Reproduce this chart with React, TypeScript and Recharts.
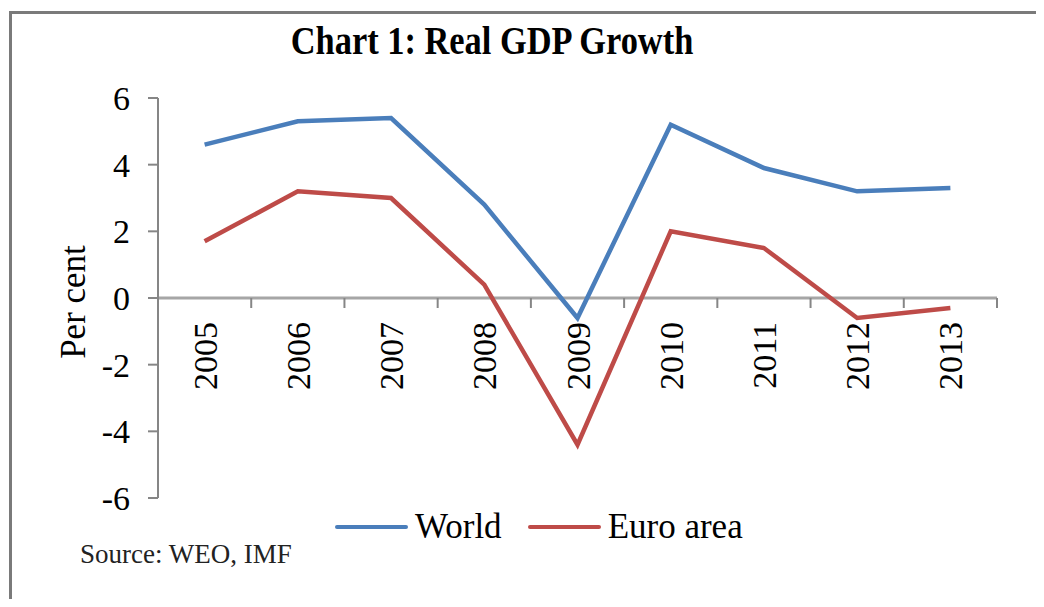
import React from 'react';
import { LineChart, Line, XAxis, YAxis, ReferenceLine, Legend } from 'recharts';

const years = ['2005', '2006', '2007', '2008', '2009', '2010', '2011', '2012', '2013'];
const world = [4.6, 5.3, 5.4, 2.8, -0.6, 5.2, 3.9, 3.2, 3.3];
const euroArea = [1.7, 3.2, 3.0, 0.4, -4.4, 2.0, 1.5, -0.6, -0.3];
const seriesNames = ['World', 'Euro area'];
const yTicks = [-6, -4, -2, 0, 2, 4, 6];

const data = years.map((year, i) => ({ year, world: world[i], euro: euroArea[i] }));

const W = 1044;
const H = 607;
const PLOT_LEFT = 158;
const PLOT_RIGHT = 997;
const PLOT_TOP = 98;
const PLOT_BOTTOM = 498;
const Y_MIN = -6;
const Y_MAX = 6;
const Y_AXIS_W = 100;
const X_AXIS_H = 30;

const zeroY = PLOT_TOP + ((Y_MAX - 0) / (Y_MAX - Y_MIN)) * (PLOT_BOTTOM - PLOT_TOP);
const band = (PLOT_RIGHT - PLOT_LEFT) / years.length;

const serif = '"Liberation Serif", "Times New Roman", serif';
const axisGray = '#868686';

// category labels hang below the zero line, not the bottom of the plot
const XTick = (props: any) => {
  const { x, payload } = props;
  const bx = x + 12;
  const ty = zeroY + 24;
  const edge = x + band / 2;
  return (
    <g>
      <line x1={edge} y1={zeroY} x2={edge} y2={zeroY + 10} stroke={axisGray} strokeWidth={2} />
      <text
        x={bx}
        y={ty}
        transform={`rotate(-90 ${bx} ${ty})`}
        textAnchor="end"
        fontFamily={serif}
        fontSize={34}
        fill="#000"
      >
        {payload.value}
      </text>
    </g>
  );
};

const YTick = (props: any) => {
  const { x, y, payload } = props;
  return (
    <text x={x} y={y} dy="0.35em" textAnchor="end" fontFamily={serif} fontSize={34} fill="#000">
      {payload.value}
    </text>
  );
};

const LegendContent = (props: any) => {
  const items = [...(props.payload || [])].sort(
    (a: any, b: any) => seriesNames.indexOf(a.value) - seriesNames.indexOf(b.value)
  );
  return (
    <div style={{ display: 'flex', alignItems: 'center', fontFamily: serif, fontSize: 35, lineHeight: 1 }}>
      {items.map((entry: any, i: number) => (
        <div key={entry.value} style={{ display: 'flex', alignItems: 'center', marginLeft: i === 0 ? 0 : 26 }}>
          <span style={{ display: 'inline-block', width: 73, height: 4, background: entry.color, marginRight: 7, borderRadius: 2 }} />
          <span style={{ color: '#000' }}>{entry.value}</span>
        </div>
      ))}
    </div>
  );
};

export default function App() {
  return (
    <div style={{ position: 'relative', width: W, height: H, margin: -8, background: '#fff', fontFamily: serif }}>
      <div
        style={{
          position: 'absolute',
          left: 9,
          top: 11,
          width: W - 9,
          height: H - 11,
          borderTop: '3px solid #7a7a7a',
          borderLeft: '3px solid #7a7a7a',
          boxSizing: 'border-box',
        }}
      />
      <div
        style={{
          position: 'absolute',
          left: 242,
          top: 21,
          width: 500,
          textAlign: 'center',
          fontSize: 40,
          lineHeight: 1,
          fontWeight: 'bold',
          color: '#000',
          transform: 'scaleX(0.86)',
          transformOrigin: 'center',
          whiteSpace: 'nowrap',
        }}
      >
        Chart 1: Real GDP Growth
      </div>
      <LineChart
        width={W}
        height={H}
        data={data}
        style={{ fontFamily: serif }}
        margin={{ top: PLOT_TOP, right: W - PLOT_RIGHT, bottom: H - PLOT_BOTTOM - X_AXIS_H, left: PLOT_LEFT - Y_AXIS_W }}
      >
        <ReferenceLine y={0} stroke="#a6a6a6" strokeWidth={3} />
        <XAxis
          dataKey="year"
          scale="band"
          height={X_AXIS_H}
          interval={0}
          axisLine={false}
          tickLine={false}
          tick={(p: any) => <XTick {...p} />}
        />
        <YAxis
          width={Y_AXIS_W}
          domain={[Y_MIN, Y_MAX]}
          ticks={yTicks}
          interval={0}
          allowDataOverflow
          axisLine={{ stroke: axisGray, strokeWidth: 2 }}
          tickLine={{ stroke: axisGray, strokeWidth: 2 }}
          tickSize={10}
          tickMargin={18}
          tick={(p: any) => <YTick {...p} />}
          label={{
            content: () => (
              <text
                x={85}
                y={302}
                transform="rotate(-90 85 302)"
                textAnchor="middle"
                fontFamily={serif}
                fontSize={35}
                fill="#000"
              >
                Per cent
              </text>
            ),
          }}
        />
        <Line
          type="linear"
          dataKey="world"
          name="World"
          stroke="#4a7ebb"
          strokeWidth={4.5}
          dot={false}
          isAnimationActive={false}
        />
        <Line
          type="linear"
          dataKey="euro"
          name="Euro area"
          stroke="#be4b48"
          strokeWidth={4.5}
          dot={false}
          isAnimationActive={false}
        />
        <Legend
          layout="horizontal"
          align="center"
          verticalAlign="middle"
          content={(p: any) => <LegendContent {...p} />}
          wrapperStyle={{ position: 'absolute', left: 335, top: 509, width: 'auto', height: 'auto' }}
        />
      </LineChart>
      <div
        style={{
          position: 'absolute',
          left: 80,
          top: 541,
          fontSize: 27,
          lineHeight: 1,
          color: '#222',
          whiteSpace: 'nowrap',
        }}
      >
        Source: WEO, IMF
      </div>
    </div>
  );
}
